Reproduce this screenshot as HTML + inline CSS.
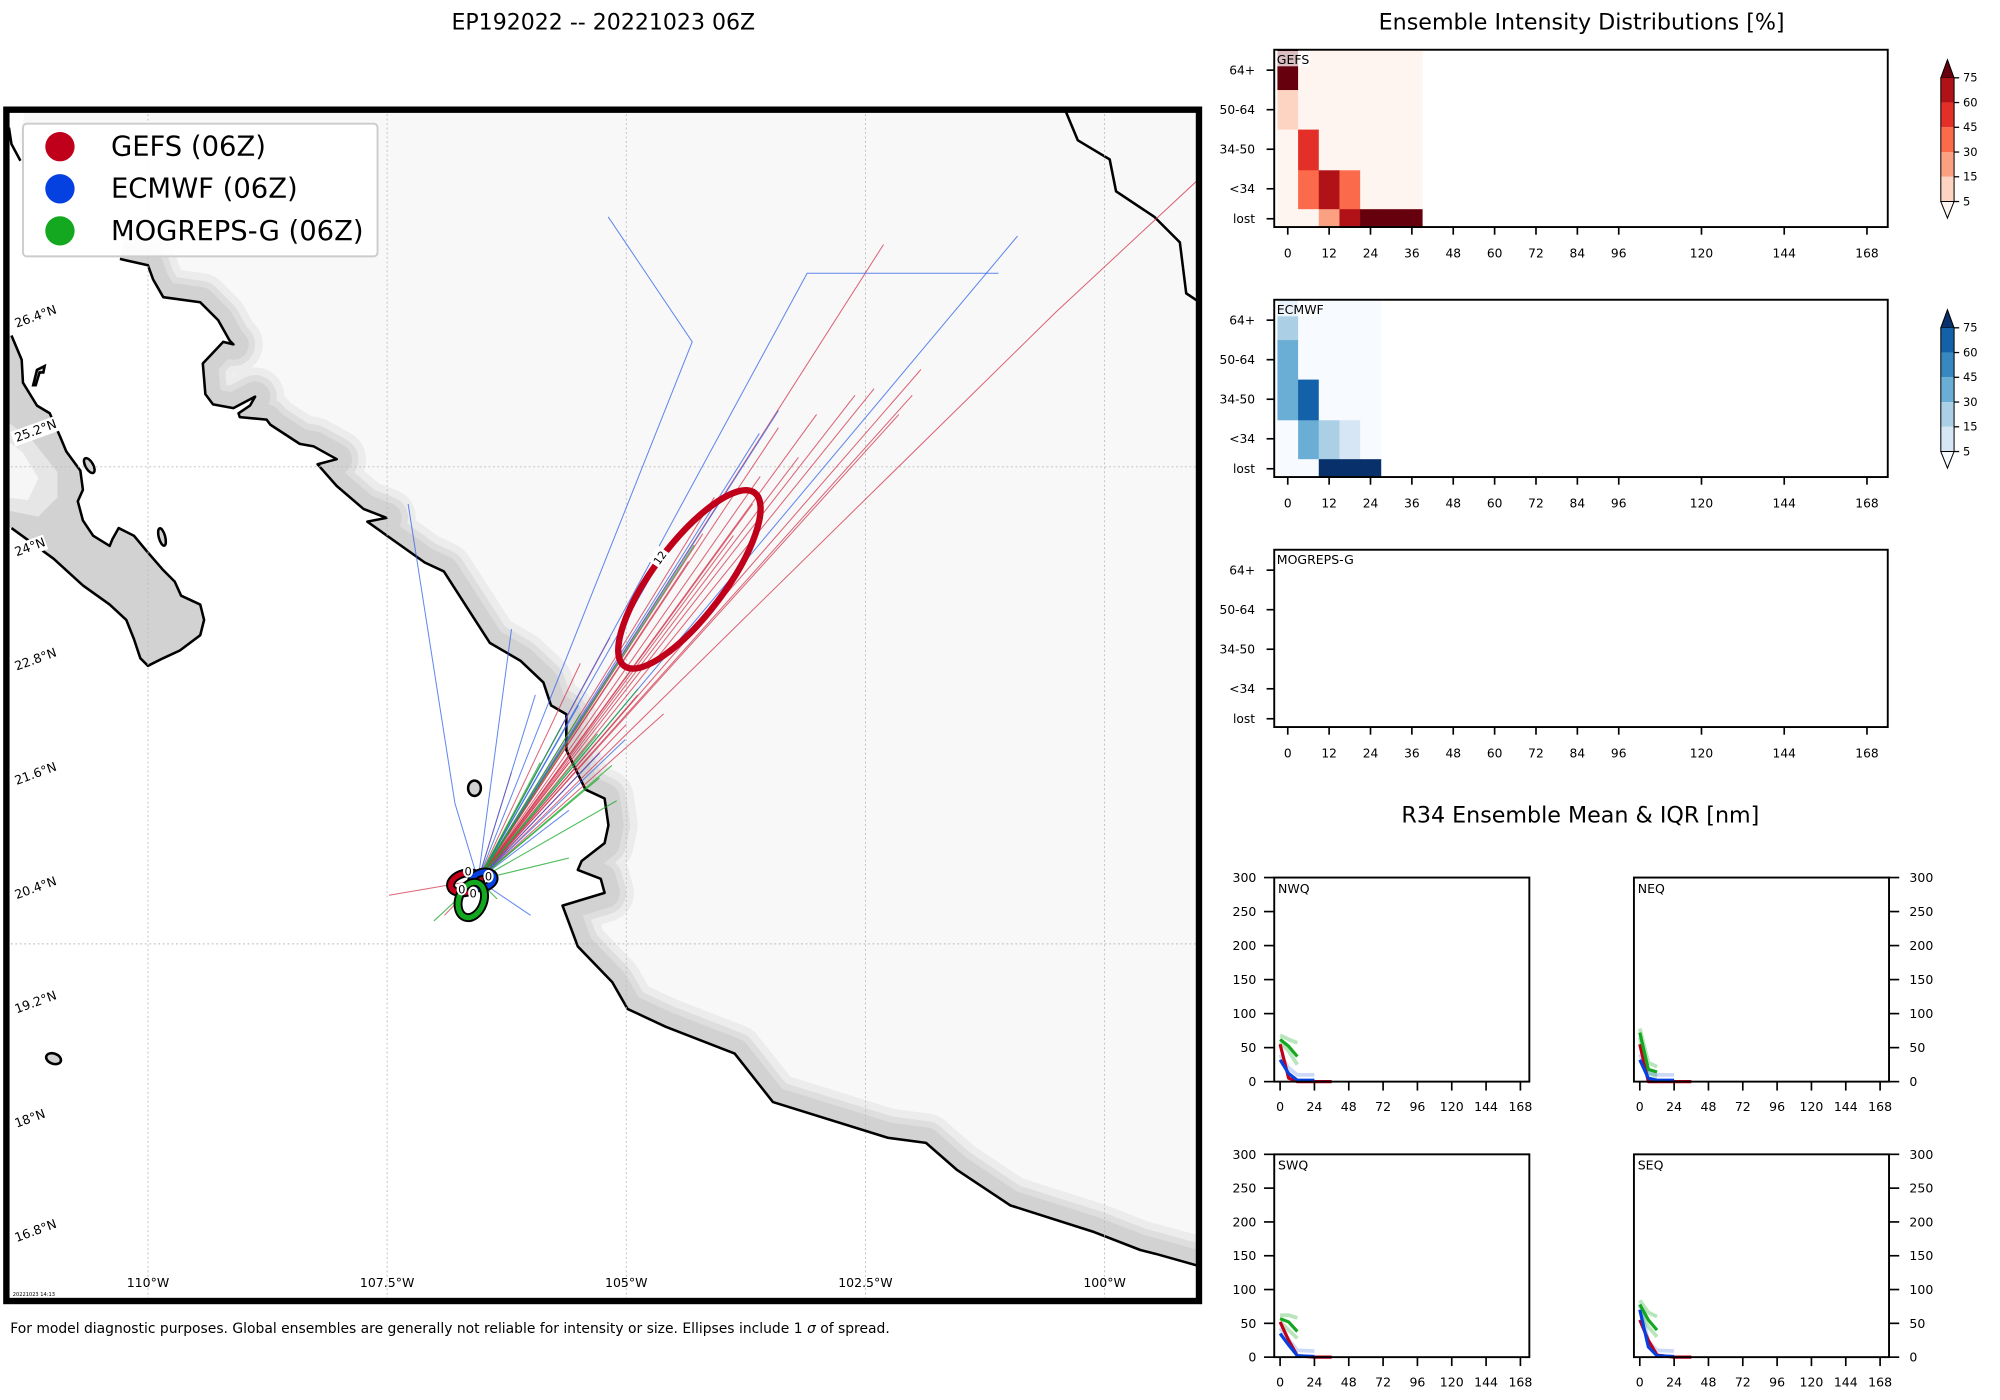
<!DOCTYPE html>
<html><head><meta charset="utf-8"><style>
html,body{margin:0;padding:0;background:#fff;}
svg{display:block;font-family:"DejaVu Sans","Liberation Sans",sans-serif;}
</style></head><body>
<svg id="s" xmlns="http://www.w3.org/2000/svg" width="2000" height="1400" viewBox="0 0 1568 1097.6">
<defs>
<clipPath id="mapclip"><rect x="7" y="88" width="931" height="930"/></clipPath>
<clipPath id="landclip"><path id="landPathClip" d=""/></clipPath>
</defs>
<text x="473" y="23" font-size="17.3" text-anchor="middle">EP192022 -- 20221023 06Z</text>
<g id="map" clip-path="url(#mapclip)">
<rect x="5" y="86" width="935" height="934" fill="#fff"/>
<g id="landg"></g>
<g id="grid"></g>
<g id="tracks"></g>
<g id="ells"></g>
</g>
<rect x="5" y="86" width="935" height="934" fill="none" stroke="#000" stroke-width="5"/>
<g id="latlab"></g><g id="lonlab"></g>
<g>
<rect x="18" y="97" width="278" height="104" rx="3" fill="#fff" fill-opacity="0.9" stroke="#ccc" stroke-width="1.5"/>
<circle cx="47" cy="115" r="11.5" fill="#c0001a"/>
<text x="87" y="122" font-size="21.5">GEFS (06Z)</text>
<circle cx="47" cy="148" r="11.5" fill="#0540e0"/>
<text x="87" y="155" font-size="21.5">ECMWF (06Z)</text>
<circle cx="47" cy="181" r="11.5" fill="#13a81f"/>
<text x="87" y="188" font-size="21.5">MOGREPS-G (06Z)</text>
</g>
<text x="10" y="1016" font-size="4">20221023 14:13</text>
<text x="8" y="1045" font-size="10.9">For model diagnostic purposes. Global ensembles are generally not reliable for intensity or size. Ellipses include 1 <tspan font-style="italic">σ</tspan> of spread.</text>
<text x="1240" y="23" font-size="17.4" text-anchor="middle">Ensemble Intensity Distributions [%]</text>
<text x="1239" y="645" font-size="17.4" text-anchor="middle">R34 Ensemble Mean &amp; IQR [nm]</text>
<g id="heat"></g>
<g id="r34"></g>
</svg>
<script>
// ===== map data =====
const trackOrigin = [-106.55, 20.67];
const gefsTracks = [
 [[-107.48,20.51]],[[-102.31,27.33]],[[-101.92,26.02]],[[-102.01,25.75]],[[-102.15,25.55]],
 [[-102.41,25.82]],[[-102.61,25.75]],[[-103.01,25.55]],[[-103.41,25.41]],[[-103.68,24.61]],
 [[-104.08,24.68]],[[-104.61,22.41]],[[-104.88,22.61]],[[-105.17,23.21]],[[-105.48,22.94]],
 [[-100.51,26.62],[-99.01,28.02]],[[-104.35,24.01]],[[-103.88,24.28]],[[-105.28,22.0]],
 [[-103.2,25.1]],[[-103.6,24.9]],[[-104.2,24.3]],[[-105.0,22.3]],[[-105.6,21.9]],[[-106.2,21.8]],[[-106.9,20.3]]
];
const ecmwfTracks = [
 [[-104.31,26.31],[-105.19,27.62]],[[-103.11,27.03],[-101.11,27.03]],[[-100.91,27.42]],
 [[-103.41,25.59]],[[-103.61,25.35]],[[-106.79,21.47],[-107.28,24.61]],[[-105.28,22.0]],
 [[-105.01,22.14]],[[-105.95,22.61]],[[-106.2,23.3]],[[-105.6,21.4]],[[-106.0,20.3]],[[-104.6,24.1]],[[-105.5,22.5]]
];
const mogrepsTracks = [
 [[-104.29,24.18]],[[-105.15,21.87]],[[-105.28,21.74]],[[-107.01,20.24]],[[-106.35,20.47]],
 [[-105.48,22.41]],[[-105.68,22.27]],[[-104.88,22.67]],[[-105.3,22.2]],[[-105.9,21.9]],[[-105.1,21.5]],[[-105.6,20.9]]
];
const gefsEllipse = {lon:-104.34, lat:23.82, a:1.133, b:0.373, ang:-53};
const originEllipses = [
 {lon:-106.68, lat:20.64, a:0.16, b:0.1, ang:-15, color:'#c0001a', name:'gefs-origin-ellipse'},
 {lon:-106.5, lat:20.67, a:0.12, b:0.08, ang:-15, color:'#0540e0', name:'ecmwf-origin-ellipse'},
 {lon:-106.62, lat:20.46, a:0.13, b:0.19, ang:20, color:'#13a81f', name:'mogreps-origin-ellipse'}
];
const lonTicks = [-110, -107.5, -105, -102.5, -100];
const lonLabels = ['110°W','107.5°W','105°W','102.5°W','100°W'];
const latLabels = ['26.4°N','25.2°N','24°N','22.8°N','21.6°N','20.4°N','19.2°N','18°N','16.8°N'];
const latLabelVals = [26.4,25.2,24,22.8,21.6,20.4,19.2,18,16.8];
const latGrid = [25, 20];

function X(lon){return 116 + (lon+110)*75;}
function Y(lat){return 740 - (lat-20)*74.8;}
const NS='http://www.w3.org/2000/svg';
function mk(tag, attrs, parent){const e=document.createElementNS(NS,tag);for(const k in attrs)e.setAttribute(k,attrs[k]);parent.appendChild(e);return e;}

// land
const coast=[[94,203],[116,208],[120,219],[128,233],[157,237],[171,251],[180,267],[183,270],[175,268],[159,285],[161,309],[167,317],[183,320],[200,311],[196,318],[187,324],[188,327],[209,329],[212,333],[235,348],[246,350],[264,360],[249,364],[264,381],[285,399],[303,406],[288,409],[333,441],[348,448],[366,476],[384,504],[408,518],[426,535],[432,553],[444,560],[444,588],[459,619],[474,626],[477,647],[474,661],[456,675],[453,682],[471,689],[474,700],[441,710],[453,742],[480,770],[492,791],[522,805],[576,826],[606,864],[696,892],[726,896],[750,917],[792,945],[858,966],[894,980],[906,983],[945,994]];
const coastTop=[[835,86],[845,110],[870,125],[875,150],[905,170],[925,190],[930,230],[945,240]];
const coastD='M'+coast.map(p=>p.join(',')).join(' L');
const landD=coastD+' L945,86 L20,86 L15,110 L60,190 Z';
document.getElementById('landPathClip').setAttribute('d',landD);
const lg=document.getElementById('landg');
const land=mk('path',{d:landD,fill:'#f8f8f8'},lg);


const bg=mk('g',{'clip-path':'url(#landclip)'},lg);
mk('path',{d:coastD,fill:'none',stroke:'#ececec','stroke-width':46,'stroke-linejoin':'round'},bg);
mk('path',{d:coastD,fill:'none',stroke:'#dedede','stroke-width':34,'stroke-linejoin':'round'},bg);
mk('path',{d:coastD,fill:'none',stroke:'#d2d2d2','stroke-width':24,'stroke-linejoin':'round'},bg);
const cl=mk('path',{d:coastD,fill:'none',stroke:'#000','stroke-width':2,'stroke-linejoin':'round'},lg);


const ct=mk('path',{d:'M'+coastTop.map(p=>p.join(',')).join(' L'),fill:'none',stroke:'#000','stroke-width':2},lg);


mk('path',{d:'M7,100 L9,113 L16,126',fill:'none',stroke:'#000','stroke-width':2},lg);
const baja=[[9,263],[17,282],[18,300],[29,318],[39,324],[47,342],[52,354],[63,369],[65,384],[61,393],[65,408],[73,420],[86,428],[88,423],[93,414],[105,420],[115,432],[128,447],[137,456],[142,467],[157,474],[160,486],[157,498],[141,510],[128,516],[116,522],[110,516],[105,501],[99,486],[86,474],[65,459],[42,438],[9,414]];
const bajaD='M5,263 L'+baja.map(p=>p.join(',')).join(' L')+' L5,414 Z';
const bj=mk('path',{d:bajaD,fill:'#d2d2d2',stroke:'none'},lg);


mk('path',{d:'M5,330 L25,345 L45,370 L45,390 L30,405 L5,400 Z',fill:'#e6e6e6'},lg);
mk('path',{d:'M5,345 L18,355 L30,375 L22,392 L5,390 Z',fill:'#f6f6f6'},lg);
mk('path',{d:'M'+baja.map(p=>p.join(',')).join(' L'),fill:'none',stroke:'#000','stroke-width':2,'stroke-linejoin':'round'},lg);
const isl=mk('path',{d:'M26,302 L29,290 L35,287 L34,292 L31,292 L28,302 Z',fill:'#d2d2d2',stroke:'#000','stroke-width':2},lg);


[[70,365,3,6.5,-30],[127,421,2.5,7,-15],[372,618,5,6,0],[42,830,6,4,20]].forEach(p=>{
 const e=mk('ellipse',{cx:p[0],cy:p[1],rx:p[2],ry:p[3],fill:'#d2d2d2',stroke:'#000','stroke-width':2,transform:`rotate(${p[4]} ${p[0]} ${p[1]})`},lg);
 
 
});
// grid
const gg=document.getElementById('grid');
lonTicks.forEach(l=>{const e=mk('line',{x1:X(l),x2:X(l),y1:86,y2:1020,stroke:'#bbb','stroke-width':0.7,'stroke-dasharray':'1.5,2'},gg);
 
 });
latGrid.forEach(l=>{const e=mk('line',{x1:5,x2:940,y1:Y(l),y2:Y(l),stroke:'#bbb','stroke-width':0.7,'stroke-dasharray':'1.5,2'},gg);
 
 });
const ll=document.getElementById('lonlab');
lonTicks.forEach((l,i)=>{const t=mk('text',{x:X(l),y:1009,'font-size':9.8,'text-anchor':'middle'},ll);t.textContent=lonLabels[i];
 
 });
const la=document.getElementById('latlab');
latLabels.forEach((s,i)=>{const y=257+(26.4-latLabelVals[i])/1.2*89.6;
 const g=mk('g',{transform:`translate(13,${y}) rotate(-20)`},la);
 mk('rect',{x:-2,y:-9,width:s.length*5.8+4,height:12,fill:'#fff'},g);
 const t=mk('text',{x:0,y:0,'font-size':9.8},g);t.textContent=s;
 
 });
// tracks
const tg=document.getElementById('tracks');
function drawTracks(arr,color,name,w){arr.forEach(tr=>{
 const pts=[trackOrigin].concat(tr).map(p=>X(p[0]).toFixed(1)+','+Y(p[1]).toFixed(1)).join(' ');
 const e=mk('polyline',{points:pts,fill:'none',stroke:color,'stroke-width':w,'stroke-opacity':0.75},tg);
 
 });}
drawTracks(gefsTracks,'#d0324a','gefs-track',0.8);
drawTracks(ecmwfTracks,'#2d60e8','ecmwf-track',0.8);
drawTracks(mogrepsTracks,'#1aa82a','mogreps-track',0.9);
// ellipses
const eg=document.getElementById('ells');
const ge=mk('ellipse',{cx:X(gefsEllipse.lon),cy:Y(gefsEllipse.lat),rx:gefsEllipse.a*75,ry:gefsEllipse.b*75,fill:'none',stroke:'#c0001a','stroke-width':5,transform:`rotate(${gefsEllipse.ang} ${X(gefsEllipse.lon)} ${Y(gefsEllipse.lat)})`},eg);


const lg12=mk('g',{transform:`translate(517,437) rotate(-55)`},eg);
mk('rect',{x:-7,y:-6,width:14,height:11,fill:'#fff'},lg12);
const t12=mk('text',{x:0,y:3.5,'font-size':8.5,'text-anchor':'middle'},lg12);t12.textContent='12';


originEllipses.forEach(o=>{const cx=X(o.lon),cy=Y(o.lat);
 mk('ellipse',{cx,cy,rx:o.a*75,ry:o.b*75,fill:'none',stroke:'#000','stroke-width':7,transform:`rotate(${o.ang} ${cx} ${cy})`},eg);
 const e=mk('ellipse',{cx,cy,rx:o.a*75,ry:o.b*75,fill:'none',stroke:o.color,'stroke-width':4,transform:`rotate(${o.ang} ${cx} ${cy})`},eg);
 
 });
[[367,683],[383,687],[362,697],[371,700]].forEach(p=>{mk('ellipse',{cx:p[0],cy:p[1],rx:4,ry:5,fill:'#fff'},eg);
 const t=mk('text',{x:p[0],y:p[1]+3.5,'font-size':9,'text-anchor':'middle'},eg);t.textContent='0';
 
 });

// ===== heatmap data =====
const heatHours = [0,6,12,18,24,30,36];
const intensityRows = ['64+','50-64','34-50','<34','lost'];
const gefsPct = [
 [80,2,2,2,2,2,2],
 [10,2,2,2,2,2,2],
 [2,50,2,2,2,2,2],
 [2,35,65,35,2,2,2],
 [2,2,20,65,80,80,80]];
const ecmwfHours = [0,6,12,18,24];
const ecmwfPct = [
 [20,2,2,2,2],
 [35,2,2,2,2],
 [35,65,2,2,2],
 [2,35,20,10,2],
 [2,2,80,80,80]];
const heatXTicks = [0,12,24,36,48,60,72,84,96,120,144,168];
const cbLevels = [5,15,30,45,60,75];
const redsCmap = ['#fff5f0','#fdd4c2','#fca082','#fb6b4b','#e32f27','#b11218','#67000d'];
const bluesCmap = ['#f7fbff','#d6e6f4','#abd0e6','#6aaed6','#3787c0','#1361a9','#08306b'];
function cidx(v){let i=0;while(i<cbLevels.length&&v>=cbLevels[i])i++;return i;}
const rowEdges=[0,31.6,62.6,94.5,125,139];
const rowCenters=[16,47,78,109,132.5];
function HX(h){return 1009.6 + h*2.703;}
const hg=document.getElementById('heat');
function heatPanel(top,label,hours,pct,cmap,name){
 const g=mk('g',{},hg);
 
 
 if(pct){pct.forEach((row,r)=>row.forEach((v,c)=>{
  const h=hours[c];
  const xa=Math.max(HX(h-3),999);
  const e=mk('rect',{x:xa,y:top+rowEdges[r],width:HX(h+3)-xa+0.3,height:rowEdges[r+1]-rowEdges[r]+0.3,fill:cmap[cidx(v)]},g);
  
  }));}
 mk('rect',{x:999,y:top,width:481,height:139,fill:'none',stroke:'#000','stroke-width':1.5},g);
 mk('rect',{x:1000,y:top+1,width:label.length*6.3+2,height:12,fill:'#fff','fill-opacity':0.75},g);
 const lt=mk('text',{x:1001,y:top+11,'font-size':9.8},g);lt.textContent=label;
 
 
 intensityRows.forEach((s,r)=>{const y=top+rowCenters[r];
  mk('line',{x1:993,x2:999,y1:y,y2:y,stroke:'#000','stroke-width':1.3},g);
  const t=mk('text',{x:984,y:y+3.5,'font-size':9.6,'text-anchor':'end'},g);t.textContent=s;
  
  });
 heatXTicks.forEach(h=>{mk('line',{x1:HX(h),x2:HX(h),y1:top+139,y2:top+145,stroke:'#000','stroke-width':1.3},g);
  const t=mk('text',{x:HX(h),y:top+163,'font-size':9.6,'text-anchor':'middle'},g);t.textContent=h;
  
  });
}
function colorbar(top,cmap,name){
 const g=mk('g',{},hg);
 
 
 const x0=1521.6,w=10.4,bh=19.4,y75=top+14.2;
 mk('path',{d:`M${x0},${y75} L${x0+w/2},${top} L${x0+w},${y75} Z`,fill:cmap[6],stroke:'#000','stroke-width':0.8},g);
 for(let i=0;i<5;i++)mk('rect',{x:x0,y:y75+i*bh,width:w,height:bh,fill:cmap[5-i]},g);
 const yb=y75+5*bh;
 mk('path',{d:`M${x0},${yb} L${x0+w/2},${yb+13} L${x0+w},${yb} Z`,fill:cmap[0],stroke:'#000','stroke-width':0.8},g);
 mk('path',{d:`M${x0},${y75} L${x0},${yb} M${x0+w},${y75} L${x0+w},${yb}`,stroke:'#000','stroke-width':0.8},g);
 cbLevels.slice().reverse().forEach((lv,i)=>{const y=y75+i*bh;
  mk('line',{x1:x0+w,x2:x0+w+4,y1:y,y2:y,stroke:'#000','stroke-width':1},g);
  const t=mk('text',{x:x0+w+7,y:y+3,'font-size':9},g);t.textContent=lv;
  
  });
}
heatPanel(39,'GEFS',heatHours,gefsPct,redsCmap,'gefs-intensity-panel');
heatPanel(235,'ECMWF',ecmwfHours,ecmwfPct,bluesCmap,'ecmwf-intensity-panel');
heatPanel(431,'MOGREPS-G',[],null,null,'mogreps-intensity-panel');
colorbar(46.8,redsCmap,'gefs-colorbar');
colorbar(242.8,bluesCmap,'ecmwf-colorbar');

// ===== R34 data =====
const r34Hours = [0,6,12,24,36];
const r34YTicks = [0,50,100,150,200,250,300];
const r34XTicks = [0,24,48,72,96,120,144,168];
const nwGefs=[55,5,0,0,0], nwEcmwf=[32,12,2,2], nwMog=[62,52,37], nwMogHi=[68,62,57], nwMogLo=[58,45,25];
const neGefs=[55,0,0,0,0], neEcmwf=[32,5,2,2], neMog=[72,18,14], neMogHi=[78,28,22], neMogLo=[65,12,8];
const swGefs=[52,25,2,0,0], swEcmwf=[35,18,2,1], swMog=[57,52,38], swMogHi=[62,62,58], swMogLo=[52,40,28];
const seGefs=[55,25,3,0,0], seEcmwf=[70,15,2,1], seMog=[78,55,40], seMogHi=[84,66,60], seMogLo=[70,45,30];
const rg=document.getElementById('r34');
function r34Panel(x0,x1,top,bot,label,right,series,name){
 const g=mk('g',{},rg);
 
 
 const hx0=x0+4.6, sx=(x1-x0-11.6)/168;
 const RX=h=>hx0+h*sx, RY=v=>bot-(v/300)*(bot-top);
 const line=(vals,color,w,op,nm)=>{const pts=vals.map((v,i)=>RX(r34Hours[i]).toFixed(1)+','+RY(v).toFixed(1)).join(' ');
  const e=mk('polyline',{points:pts,fill:'none',stroke:color,'stroke-width':w,'stroke-opacity':op,'stroke-linejoin':'round'},g);
  
  };
 line(series.mHi,'#13a81f',3,0.3,'mogreps-iqr-upper');
 line(series.mLo,'#13a81f',3,0.3,'mogreps-iqr-lower');
 line(series.e.map(v=>v+8),'#0540e0',3,0.2,'ecmwf-iqr');
 line(series.g,'#c0001a',2.5,1,'gefs-mean');
 line(series.e,'#0540e0',2.5,1,'ecmwf-mean');
 line(series.m,'#13a81f',2.5,1,'mogreps-mean');
 mk('rect',{x:x0,y:top,width:x1-x0,height:bot-top,fill:'none',stroke:'#000','stroke-width':1.5},g);
 const lt=mk('text',{x:x0+3,y:top+12,'font-size':9.8},g);lt.textContent=label;
 
 
 r34YTicks.forEach(v=>{const y=RY(v);
  const ax=right?x1:x0;const d=right?1:-1;
  mk('line',{x1:ax,x2:ax+d*8,y1:y,y2:y,stroke:'#000','stroke-width':1.3},g);
  const t=mk('text',{x:right?ax+16:ax-14,y:y+3.5,'font-size':9.8,'text-anchor':right?'start':'end'},g);t.textContent=v;
  
  });
 r34XTicks.forEach(h=>{mk('line',{x1:RX(h),x2:RX(h),y1:bot,y2:bot+7,stroke:'#000','stroke-width':1.3},g);
  const t=mk('text',{x:RX(h),y:bot+23,'font-size':9.8,'text-anchor':'middle'},g);t.textContent=h;
  
  });
}
r34Panel(999,1199,688,848,'NWQ',false,{g:nwGefs,e:nwEcmwf,m:nwMog,mHi:nwMogHi,mLo:nwMogLo},'r34-nwq-panel');
r34Panel(1281,1481,688,848,'NEQ',true,{g:neGefs,e:neEcmwf,m:neMog,mHi:neMogHi,mLo:neMogLo},'r34-neq-panel');
r34Panel(999,1199,905,1064,'SWQ',false,{g:swGefs,e:swEcmwf,m:swMog,mHi:swMogHi,mLo:swMogLo},'r34-swq-panel');
r34Panel(1281,1481,905,1064,'SEQ',true,{g:seGefs,e:seEcmwf,m:seMog,mHi:seMogHi,mLo:seMogLo},'r34-seq-panel');
</script>
</body></html>
